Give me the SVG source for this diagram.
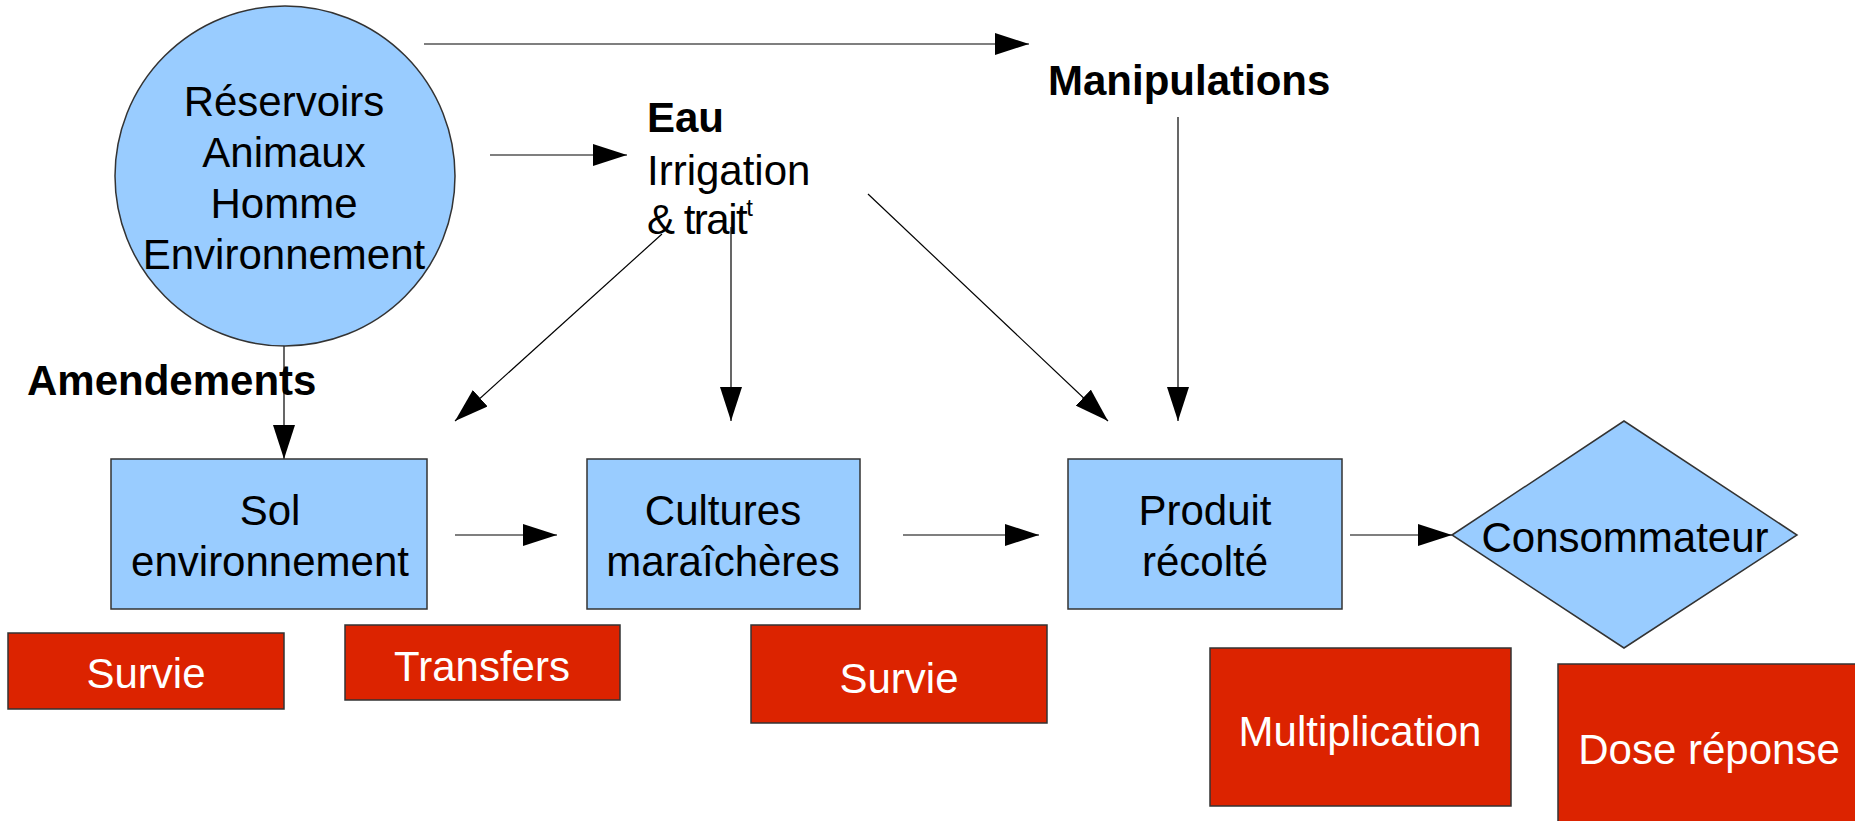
<svg xmlns="http://www.w3.org/2000/svg" width="1855" height="821" viewBox="0 0 1855 821">
<style>
.blue{fill:#99ccff;stroke:#333333;stroke-width:1.5}
.red{fill:#dc2300;stroke:#333333;stroke-width:1.5}
.t{font-family:"Liberation Sans",Arial,sans-serif;font-size:42px;fill:#000}
.b{font-weight:bold}
.w{fill:#ffffff}
.c{text-anchor:middle}
.ln{stroke:#000;stroke-width:1.2;fill:none;marker-end:url(#ah)}
</style>
<defs>
<marker id="ah" viewBox="0 0 34 22" refX="34" refY="11" markerWidth="34" markerHeight="22" markerUnits="userSpaceOnUse" orient="auto">
<path d="M0,0 L34,11 L0,22 z" fill="#000"/>
</marker>
</defs>
<rect width="1855" height="821" fill="#ffffff"/>
<g id="connectors">
<line class="ln" x1="424" y1="44" x2="1029" y2="44"/>
<line class="ln" x1="490" y1="155" x2="627" y2="155"/>
<line class="ln" x1="284" y1="345" x2="284" y2="459"/>
<line class="ln" x1="662" y1="234" x2="455" y2="421"/>
<line class="ln" x1="731" y1="227" x2="731" y2="421"/>
<line class="ln" x1="868" y1="194" x2="1108" y2="421"/>
<line class="ln" x1="1178" y1="117" x2="1178" y2="421"/>
<line class="ln" x1="455" y1="535" x2="557" y2="535"/>
<line class="ln" x1="903" y1="535" x2="1039" y2="535"/>
<line class="ln" x1="1350" y1="535" x2="1452" y2="535"/>
</g>
<g id="reservoirs">
<circle class="blue" cx="285" cy="176" r="170"/>
<text class="t c" x="284" y="116">Réservoirs</text>
<text class="t c" x="284" y="167">Animaux</text>
<text class="t c" x="284" y="218">Homme</text>
<text class="t c" x="284" y="269">Environnement</text>
</g>
<g id="eau">
<text class="t b" x="647" y="132">Eau</text>
<text class="t" x="647" y="185">Irrigation</text>
<text class="t" x="647" y="234" letter-spacing="-1.5">&amp; trait<tspan font-size="24" dy="-18" letter-spacing="0">t</tspan></text>
</g>
<g id="manipulations">
<text class="t b" x="1048" y="95">Manipulations</text>
</g>
<g id="amendements">
<text class="t b" x="27" y="395">Amendements</text>
</g>
<g id="sol">
<rect class="blue" x="111" y="459" width="316" height="150"/>
<text class="t c" x="270" y="525">Sol</text>
<text class="t c" x="270" y="576">environnement</text>
</g>
<g id="cultures">
<rect class="blue" x="587" y="459" width="273" height="150"/>
<text class="t c" x="723" y="525">Cultures</text>
<text class="t c" x="723" y="576">maraîchères</text>
</g>
<g id="produit">
<rect class="blue" x="1068" y="459" width="274" height="150"/>
<text class="t c" x="1205" y="525">Produit</text>
<text class="t c" x="1205" y="576">récolté</text>
</g>
<g id="consommateur">
<polygon class="blue" points="1452,535 1624,421 1797,535 1624,648"/>
<text class="t c" x="1625" y="552">Consommateur</text>
</g>
<g id="survie1">
<rect class="red" x="8" y="633" width="276" height="76"/>
<text class="t c w" x="146" y="688">Survie</text>
</g>
<g id="transfers">
<rect class="red" x="345" y="625" width="275" height="75"/>
<text class="t c w" x="482" y="681">Transfers</text>
</g>
<g id="survie2">
<rect class="red" x="751" y="625" width="296" height="98"/>
<text class="t c w" x="899" y="693">Survie</text>
</g>
<g id="multiplication">
<rect class="red" x="1210" y="648" width="301" height="158"/>
<text class="t c w" x="1360" y="746">Multiplication</text>
</g>
<g id="dose">
<rect class="red" x="1558" y="664" width="310" height="170"/>
<text class="t c w" x="1709" y="764">Dose réponse</text>
</g>
</svg>
